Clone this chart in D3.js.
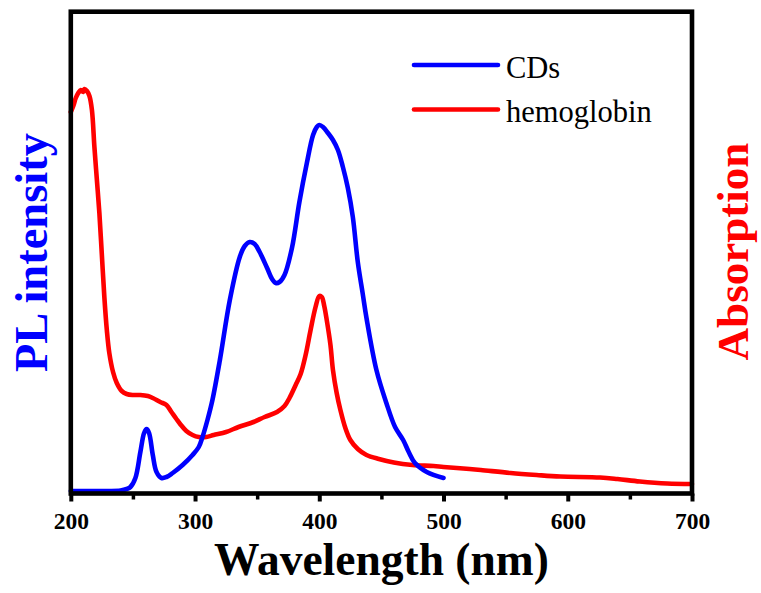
<!DOCTYPE html>
<html>
<head>
<meta charset="utf-8">
<script src="https://cdn.jsdelivr.net/npm/d3@7"></script>
<style>
  html, body { margin: 0; padding: 0; background: #ffffff; }
  svg { display: block; }
</style>
</head>
<body>
<svg id="chart" width="761" height="593"></svg>
<script>
// ---- Data (arbitrary units) ----
const cdsWavelength = [200,230,240,245,248,252,256,259,261,263,266,269,273,277,282,290,298,303,306,310,314,320,328,336,340,344,348,352,358,362,365,368,372,378,384,390,395,398,400,403,407,411,415,419,423,427,431,435,438,446,454,461,467.5,472,477,486.5,500];
const cdsIntensity = [2.5,2.5,3,4.5,6.5,15.5,41.5,60.5,64.5,60.5,38.5,21.5,15.5,16.5,20.5,28.5,38.5,46.5,56.5,73.5,93.5,133.5,193.5,236.5,247.5,251.5,249.5,241.5,225.5,214.5,210.5,211.5,218.5,245.5,291.5,330.5,358.5,366.5,368.5,366.5,360.5,353.5,343.5,326.5,305.5,276.5,231.5,199.5,175.5,123.5,90.5,66.5,53.5,41.5,30.5,21.5,15.5];

const hbWavelength = [200,202,204,206,208,210,211,213,215,217,219,221,223,225,227,229,231,234,237,241,245,250,256,262,266,272,277,281,285,288,293,298,303,309,315,325,335,347,356,366,372,376,381,385,389,393,397,400,402,404,406,409,411,414,417,421,425,431,438,448,460,475,492,500,521,530,554,575,594,626,640,658,680,700];
const hbAbsorption = [381.5,387.5,395.5,400.5,403.5,401.5,404.5,402.5,397.5,383.5,346.5,313.5,280.5,238.5,196.5,163.5,140.5,121.5,110.5,102.5,99.5,98.5,98.5,97.5,95.5,91.5,88.5,81.5,74.5,69.5,62.5,58.5,56.5,56.5,58.5,61.5,66.5,71.5,76.5,81.5,87.5,95.5,108.5,119.5,138.5,163.5,186.5,197.5,196.5,187.5,173.5,148.5,123.5,100.5,83.5,65.5,53.5,44.5,38.5,34.5,31,28.5,27.5,26.5,24.5,23.5,20.5,18.5,17,16,14.5,12,10,9.5];

const xMajorTicks = [200,300,400,500,600,700];
const xMinorTicks = [250,350,450,550,650];
const legendLabels = ["CDs","hemoglobin"];
const seriesColors = ["#0000FF","#FF0000"];
const xTitle = "Wavelength (nm)";
const yLeftTitle = "PL intensity";
const yRightTitle = "Absorption";

// ---- Layout ----
const mLeft = 70.8, mRight = 692, mTop = 11.7, mBottom = 493.5;
const serif = "'Liberation Serif','Times New Roman',serif";
const svg = d3.select("#chart");

const x = d3.scaleLinear().domain([200,700]).range([mLeft,mRight]);
const y = d3.scaleLinear().domain([0,481.8]).range([mBottom,mTop]);

// ticks
const majorAxis = d3.axisBottom(x).tickValues(xMajorTicks).tickSize(8).tickPadding(10).tickFormat(d3.format("d"));
const gMaj = svg.append("g").attr("transform",`translate(0,${mBottom})`).call(majorAxis);
gMaj.select(".domain").remove();
gMaj.selectAll(".tick line").attr("stroke","#000").attr("stroke-width",4);
gMaj.selectAll(".tick text")
  .attr("font-family",serif).attr("font-weight","bold").attr("font-size","23.5px").attr("fill","#000")
  .attr("dy",null).attr("y",35);

const minorAxis = d3.axisBottom(x).tickValues(xMinorTicks).tickSize(6).tickFormat("");
const gMin = svg.append("g").attr("transform",`translate(0,${mBottom})`).call(minorAxis);
gMin.select(".domain").remove();
gMin.selectAll(".tick text").remove();
gMin.selectAll(".tick line").attr("stroke","#000").attr("stroke-width",3.5);

// lines
const line = d3.line().x(d=>x(d[0])).y(d=>y(d[1])).curve(d3.curveCatmullRom.alpha(0.5));
const hbData = hbWavelength.map((w,i)=>[w,hbAbsorption[i]]);
const cdsData = cdsWavelength.map((w,i)=>[w,cdsIntensity[i]]);

svg.append("path").datum(hbData).attr("d",line)
  .attr("fill","none").attr("stroke",seriesColors[1]).attr("stroke-width",4.6)
  .attr("stroke-linejoin","round").attr("stroke-linecap","round");
svg.append("path").datum(cdsData).attr("d",line)
  .attr("fill","none").attr("stroke",seriesColors[0]).attr("stroke-width",4.6)
  .attr("stroke-linejoin","round").attr("stroke-linecap","round");

// frame
svg.append("rect").attr("x",mLeft).attr("y",mTop).attr("width",mRight-mLeft).attr("height",mBottom-mTop)
  .attr("fill","none").attr("stroke","#000").attr("stroke-width",4.6);

// legend
const legend = svg.append("g");
legendLabels.forEach((lab,i)=>{
  const yy = 65 + i*44.5;
  legend.append("line").attr("x1",414).attr("x2",498).attr("y1",yy).attr("y2",yy)
    .attr("stroke",seriesColors[i]).attr("stroke-width",4.6).attr("stroke-linecap","round");
  legend.append("text").attr("x",506).attr("y",yy+12.5)
    .attr("font-family",serif).attr("font-size","30.5px").attr("fill","#000").text(lab);
});

// titles
svg.append("text").attr("x",(mLeft+mRight)/2).attr("y",574.5).attr("text-anchor","middle")
  .attr("font-family",serif).attr("font-weight","bold").attr("font-size","45.5px").attr("fill","#000")
  .text(xTitle);
svg.append("text").attr("transform",`translate(47,${(mTop+mBottom)/2}) rotate(-90)`).attr("text-anchor","middle")
  .attr("font-family",serif).attr("font-weight","bold").attr("font-size","46.5px").attr("fill","#0000FF")
  .text(yLeftTitle);
svg.append("text").attr("transform",`translate(748,${(mTop+mBottom)/2 - 1}) rotate(-90)`).attr("text-anchor","middle")
  .attr("font-family",serif).attr("font-weight","bold").attr("font-size","45px").attr("fill","#FF0000")
  .text(yRightTitle);
</script>
</body>
</html>
